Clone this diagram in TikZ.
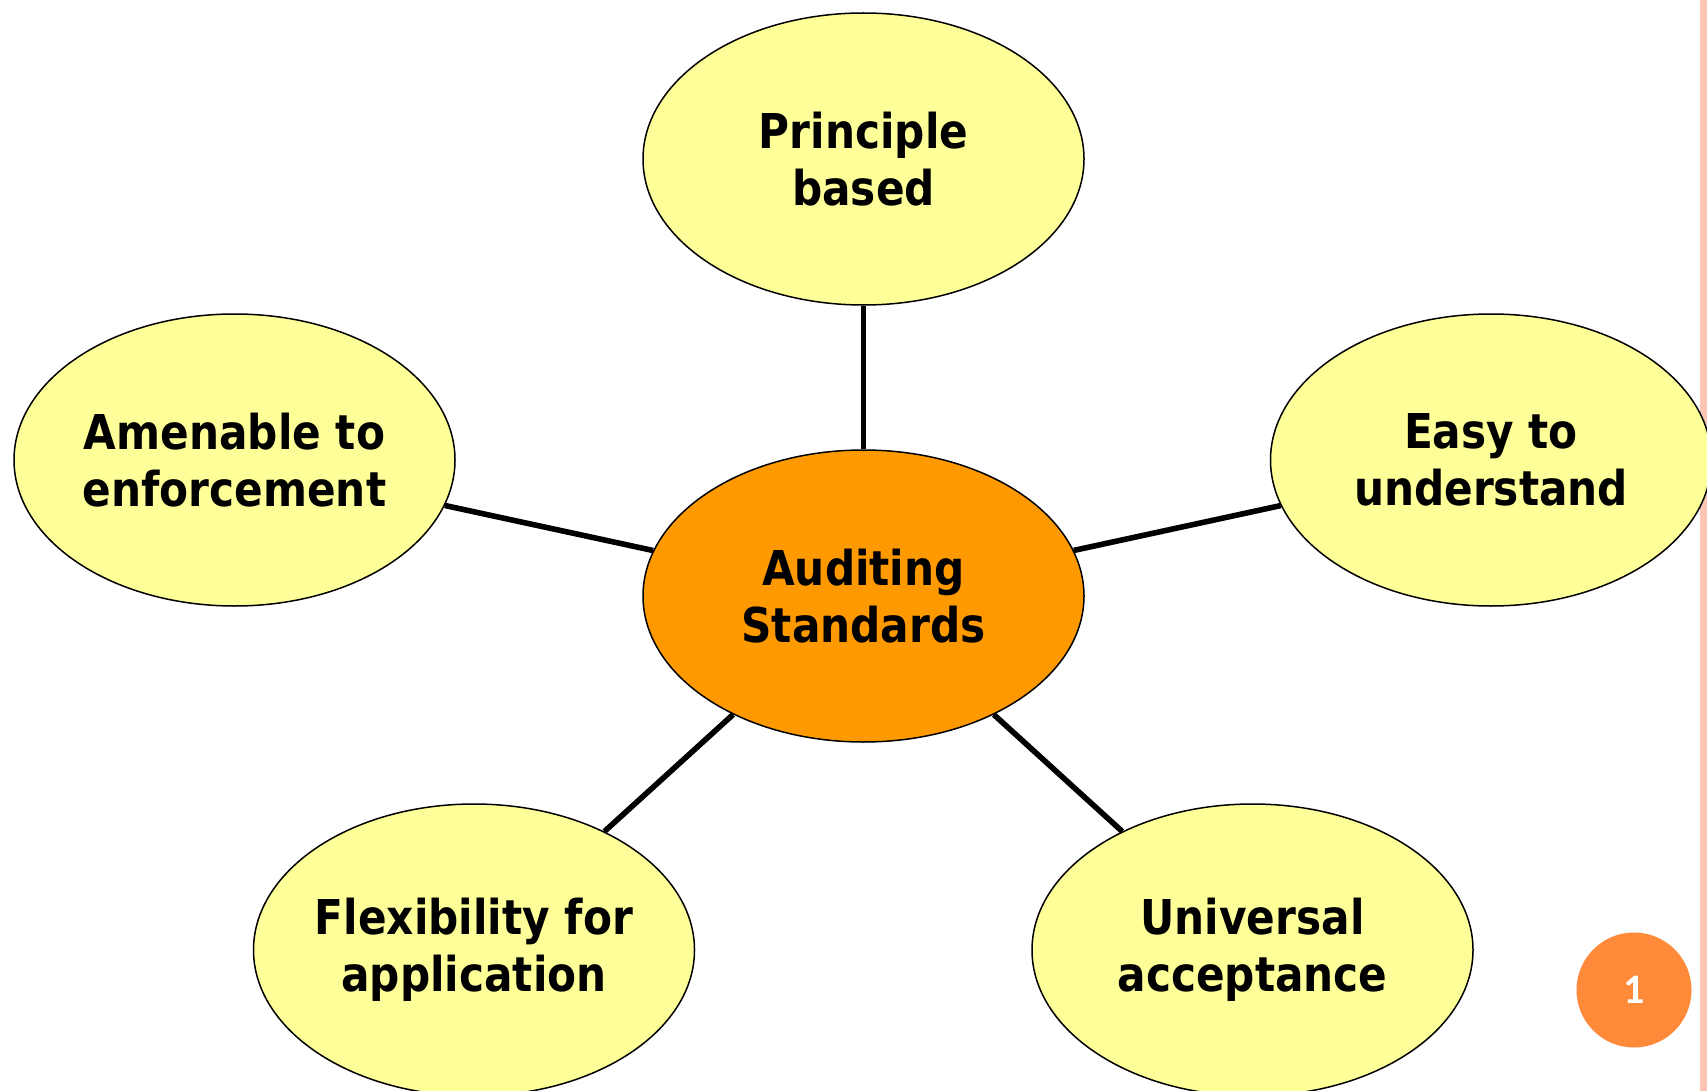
\documentclass[tikz,border=0pt]{standalone}
\usepackage{fontspec}
\setmainfont{DejaVu Sans}[FakeStretch=0.88]
\newfontfamily\numfont{Carlito}
\usetikzlibrary{shapes.geometric}
\definecolor{petal}{HTML}{FFFF99}
\definecolor{hub}{HTML}{FF9900}
\definecolor{badge}{HTML}{FF8A3A}
\definecolor{sidebar}{HTML}{FCC6B2}
\tikzset{
  bubble/.style={ellipse, draw=black, line width=0.75pt, fill=petal,
    minimum width=220.5pt, minimum height=146pt, inner sep=-30pt, align=center,
    font=\bfseries\fontsize{24}{28.3}\selectfont},
  hubbubble/.style={bubble, fill=hub},
  spoke/.style={draw=black, line width=2.8pt}
}
\begin{document}
\begin{tikzpicture}[x=0.5pt,y=-0.5pt]
\useasboundingbox (0,0) rectangle (1707,1091);
\fill[white] (0,0) rectangle (1707,1091);
\fill[sidebar] (1700,0) rectangle (1707,1091);
\node[hubbubble] (c) at (863.5,596) {Auditing\\Standards};
\node[bubble] (t) at (863.5,159) {Principle\\based};
\node[bubble] (l) at (234.5,460) {Amenable to\\enforcement};
\node[bubble] (r) at (1491,460) {Easy to\\understand};
\node[bubble] (bl) at (474,950) {Flexibility for\\application};
\node[bubble] (br) at (1252.5,950) {Universal\\acceptance};
\draw[spoke] (c) -- (t);
\draw[spoke] (c) -- (l);
\draw[spoke] (c) -- (r);
\draw[spoke] (c) -- (bl);
\draw[spoke] (c) -- (br);
\node[circle, fill=badge, minimum size=57.5pt, inner sep=0pt, text=white,
  font=\numfont\bfseries\fontsize{21}{24}\selectfont] (n) at (1634,990) {1};
\end{tikzpicture}
\end{document}
